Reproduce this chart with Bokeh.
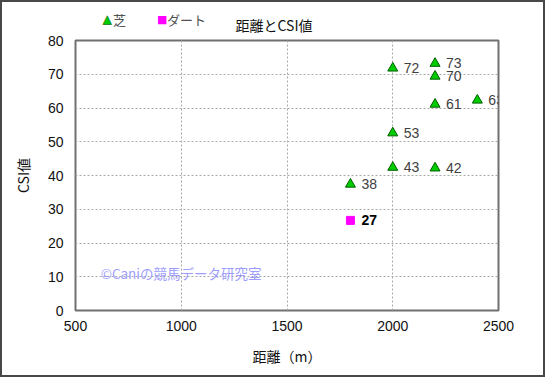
from bokeh.plotting import figure
from bokeh.layouts import column
from bokeh.models import ColumnDataSource, Label, LabelSet, FixedTicker, Range1d, Div
from bokeh.core.properties import value
from bokeh.embed import file_html
from bokeh.resources import INLINE

# data
turf_dist = [2000, 2200, 2200, 2200, 2400, 2000, 2000, 2200, 1800]
turf_csi = [72, 73, 70, 61, 63, 53, 43, 42, 38]
turf_y = [71.8, 73.2, 69.4, 61.1, 62.3, 52.6, 42.4, 42.2, 37.4]
dirt_dist = [1800]
dirt_csi = [27]
dirt_y = [26.7]
x_ticks = [500, 1000, 1500, 2000, 2500]
y_ticks = [0, 10, 20, 30, 40, 50, 60, 70, 80]
series_names = ["芝", "ダート"]
title_text = "距離とCSI値"

JP = "Noto Sans CJK JP"
NUM = "Liberation Sans"
BORDER = "2px solid #484848"

# ---- top strip (legend + title) as HTML ----
span = "position:absolute;white-space:nowrap;line-height:1;"
html = (
    f'<div style="position:relative;width:541px;height:32px;margin:0;padding:0;'
    f'font-family:\'{JP}\';">'
    f'<span style="{span}left:101px;top:12px;font-family:\'DejaVu Sans\';font-size:11px;'
    f'color:#00cc00;-webkit-text-stroke:0.6px #007000;">&#9650;</span>'
    f'<span style="{span}left:111px;top:11px;font-size:13px;color:#505050;">{series_names[0]}</span>'
    f'<span style="{span}left:155px;top:12px;font-family:\'DejaVu Sans\';font-size:11px;'
    f'color:#ff00ff;">&#9632;</span>'
    f'<span style="{span}left:165px;top:11px;font-size:13px;color:#505050;">{series_names[1]}</span>'
    f'<span style="{span}left:272px;top:16px;transform:translateX(-50%);font-size:14px;'
    f'color:#111111;">{title_text}</span>'
    f'</div>'
)
top = Div(text=html, width=541, height=32, margin=0,
          styles={"border-top": BORDER, "border-left": BORDER, "border-right": BORDER,
                  "box-sizing": "content-box", "background-color": "white",
                  "padding": "0"})

# ---- main plot ----
p = figure(width=541, height=341, output_backend="svg", toolbar_location=None,
           title_location=None, margin=0,
           x_range=Range1d(500, 2500), y_range=Range1d(0, 80),
           min_border_left=73, min_border_right=49, min_border_top=6, min_border_bottom=67)
p.styles = {"border-bottom": BORDER, "border-left": BORDER, "border-right": BORDER,
            "box-sizing": "content-box"}
p.background_fill_color = "white"
p.border_fill_color = "white"
p.outline_line_color = "#707070"
p.outline_line_width = 2

for ax in (p.xaxis, p.yaxis):
    ax.major_tick_line_color = None
    ax.minor_tick_line_color = None
    ax.major_tick_out = 0
    ax.major_tick_in = 0
    ax.minor_tick_out = 0
    ax.axis_line_color = None
    ax.major_label_text_font = NUM
    ax.major_label_text_font_size = "14px"
    ax.major_label_text_color = "#111111"
    ax.axis_label_text_font = JP
    ax.axis_label_text_font_size = "14px"
    ax.axis_label_text_font_style = "normal"
    ax.axis_label_text_color = "#111111"
p.xaxis.ticker = FixedTicker(ticks=x_ticks)
p.yaxis.ticker = FixedTicker(ticks=y_ticks)
p.xaxis.axis_label = "距離（m）"
p.yaxis.axis_label = "CSI値"
p.xaxis.major_label_standoff = 10
p.yaxis.major_label_standoff = 12
p.xaxis.axis_label_standoff = 12
p.yaxis.axis_label_standoff = 12

p.grid.grid_line_color = "#a8a8a8"
p.grid.grid_line_dash = "2 2"
p.grid.grid_line_width = 1

turf_src = ColumnDataSource(dict(x=turf_dist, y=turf_y, lab=[str(v) for v in turf_csi]))
dirt_src = ColumnDataSource(dict(x=dirt_dist, y=dirt_y, lab=[str(v) for v in dirt_csi]))

p.add_layout(Label(x=619, y=11, text="©Caniの競馬データ研究室", text_font=JP,
                   text_font_size="13.5px", text_color="#9090ff", text_alpha=0.9,
                   text_baseline="middle"))

p.scatter("x", "y", source=turf_src, marker="triangle", size=10,
          fill_color="#00cc00", line_color="#006000", line_width=1)
p.scatter("x", "y", source=dirt_src, marker="square", size=8,
          fill_color="#ff00ff", line_color="#ff00ff", line_width=1)

p.add_layout(LabelSet(x="x", y="y", text="lab", source=turf_src, x_offset=11, y_offset=0,
                      text_baseline="middle", text_font=value(NUM), text_font_size="14px",
                      text_color="#404040"))
p.add_layout(LabelSet(x="x", y="y", text="lab", source=dirt_src, x_offset=11, y_offset=0,
                      text_baseline="middle", text_font=value(NUM), text_font_size="14px",
                      text_font_style="bold", text_color="#000000"))

layout = column(top, p, spacing=0, margin=0)
open("out.html", "w").write(file_html(layout, INLINE))
